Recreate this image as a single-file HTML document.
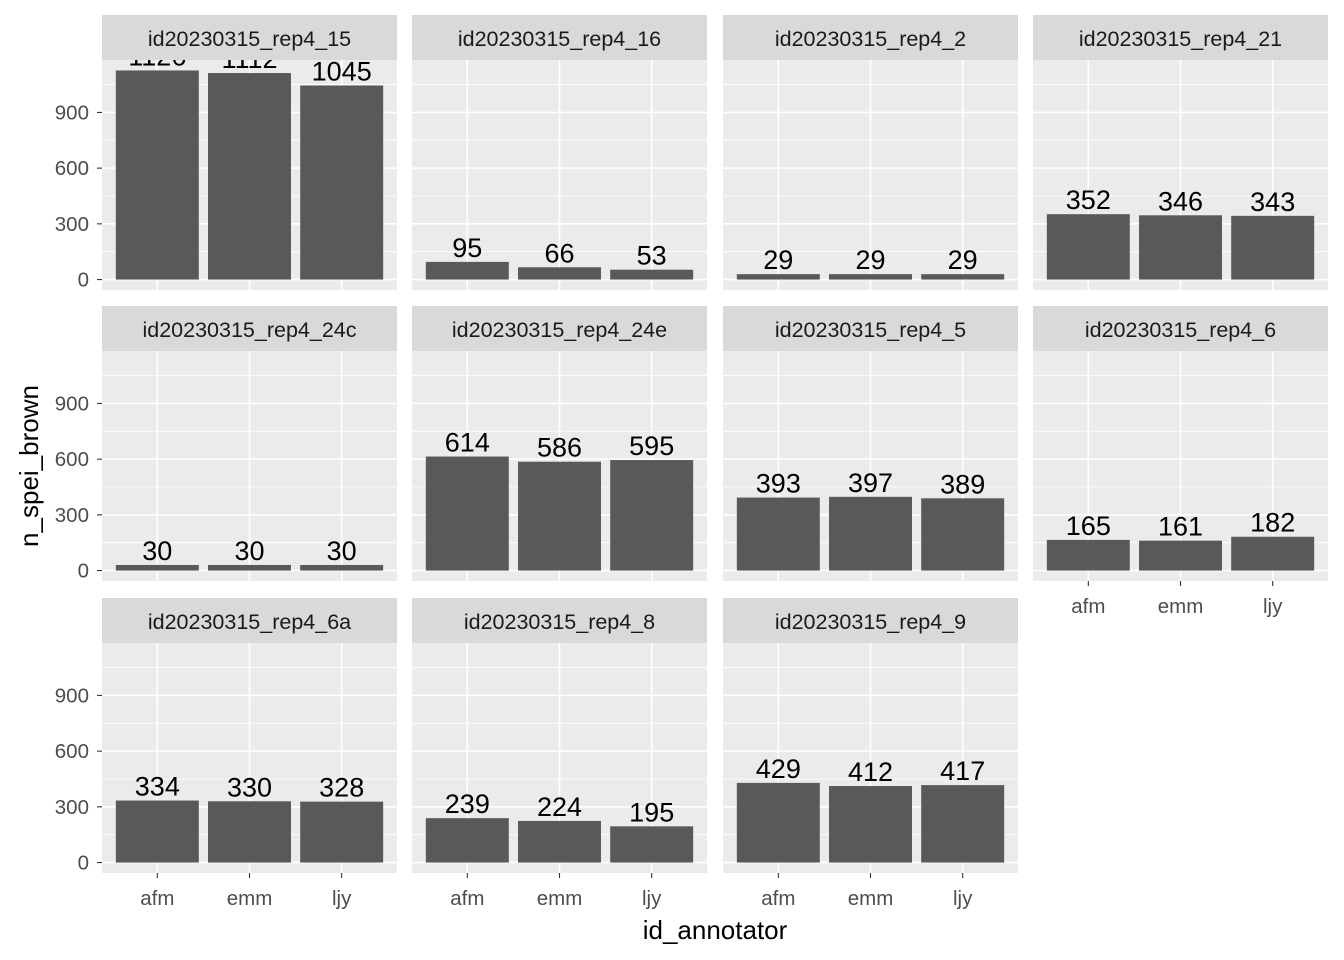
<!DOCTYPE html>
<html><head><meta charset="utf-8"><style>
html,body{margin:0;padding:0;background:#fff}
svg{display:block;font-family:"Liberation Sans",Arial,sans-serif}
</style></head><body>
<svg id="chart" width="1344" height="960" xmlns="http://www.w3.org/2000/svg"></svg>
<script>
const facets=["id20230315_rep4_15","id20230315_rep4_16","id20230315_rep4_2","id20230315_rep4_21","id20230315_rep4_24c","id20230315_rep4_24e","id20230315_rep4_5","id20230315_rep4_6","id20230315_rep4_6a","id20230315_rep4_8","id20230315_rep4_9"];
const annotators=["afm","emm","ljy"];
const valuesAfm=[1126,95,29,352,30,614,393,165,334,239,429];
const valuesEmm=[1112,66,29,346,30,586,397,161,330,224,412];
const valuesLjy=[1045,53,29,343,30,595,389,182,328,195,417];
const yTicks=[0,300,600,900];
const yMinor=[150,450,750,1050];

const NS="http://www.w3.org/2000/svg";
const svg=document.getElementById('chart');
function mk(tag,attrs,parent){const e=document.createElementNS(NS,tag);for(const k in attrs)e.setAttribute(k,attrs[k]);(parent||svg).appendChild(e);return e;}
const colX=[102,412,723,1033], panelW=295;
const rowTop=[60,351,643], panelH=230;
const allVals=valuesAfm.concat(valuesEmm,valuesLjy);
const M=Math.max(...allVals);
const scale=panelH/(1.1*M);
function yPos(r,v){return rowTop[r]+panelH-0.05*M*scale-v*scale;}
function xPos(c,i){return colX[c]+(i+1-0.4)*panelW/3.2;}
const series=[valuesAfm,valuesEmm,valuesLjy];
const defs=mk('defs',{});
facets.forEach((f,k)=>{
  const r=Math.floor(k/4), c=k%4;
  const g=mk('g',{});
  
  
  const cp=mk('clipPath',{id:'cp'+k},defs);
  mk('rect',{x:colX[c],y:rowTop[r],width:panelW,height:panelH},cp);
  const strip=mk('rect',{x:colX[c],y:rowTop[r]-45,width:panelW,height:45,fill:'#D9D9D9'},g);
  
  
  const st=mk('text',{x:colX[c]+panelW/2,y:rowTop[r]-14,'text-anchor':'middle','font-size':'21.5',fill:'#1A1A1A'},g);
  st.textContent=f;
  
  
  mk('rect',{x:colX[c],y:rowTop[r],width:panelW,height:panelH,fill:'#EBEBEB'},g);
  const inner=mk('g',{'clip-path':'url(#cp'+k+')'},g);
  yMinor.forEach(v=>mk('line',{x1:colX[c],x2:colX[c]+panelW,y1:yPos(r,v),y2:yPos(r,v),stroke:'#fff','stroke-width':'0.8'},inner));
  yTicks.forEach(v=>mk('line',{x1:colX[c],x2:colX[c]+panelW,y1:yPos(r,v),y2:yPos(r,v),stroke:'#fff','stroke-width':'1.6'},inner));
  annotators.forEach((a,i)=>mk('line',{x1:xPos(c,i),x2:xPos(c,i),y1:rowTop[r],y2:rowTop[r]+panelH,stroke:'#fff','stroke-width':'1.6'},inner));
  annotators.forEach((a,i)=>{
    const v=series[i][k], bw=0.9*panelW/3.2;
    const b=mk('rect',{x:xPos(c,i)-bw/2,y:yPos(r,v),width:bw,height:v*scale,fill:'#595959'},inner);
    
    
    const t=mk('text',{x:xPos(c,i),y:yPos(r,v)-5,'text-anchor':'middle','font-size':'27',fill:'#000'},inner);
    t.textContent=v;
    
    
  });
  if(c===0){
    yTicks.forEach(v=>{
      mk('line',{x1:97,x2:102,y1:yPos(r,v),y2:yPos(r,v),stroke:'#333','stroke-width':'1.1'},g);
      const t=mk('text',{x:89,y:yPos(r,v)+7,'text-anchor':'end','font-size':'20.5',fill:'#4D4D4D'},g);
      t.textContent=v;
      
      
    });
  }
  const showX = r===2 || (r===1 && c===3);
  if(showX){
    annotators.forEach((a,i)=>{
      const yb=rowTop[r]+panelH;
      mk('line',{x1:xPos(c,i),x2:xPos(c,i),y1:yb,y2:yb+5,stroke:'#333','stroke-width':'1.1'},g);
      const t=mk('text',{x:xPos(c,i),y:yb+32,'text-anchor':'middle','font-size':'20.5',fill:'#4D4D4D'},g);
      t.textContent=a;
      
      
    });
  }
});
const xt=mk('text',{x:715,y:939,'text-anchor':'middle','font-size':'26',fill:'#000'});
xt.textContent='id_annotator';


const yt=mk('text',{x:0,y:0,'text-anchor':'middle','font-size':'26',fill:'#000',transform:'translate(38,466) rotate(-90)'});
yt.textContent='n_spei_brown';


</script>
</body></html>
